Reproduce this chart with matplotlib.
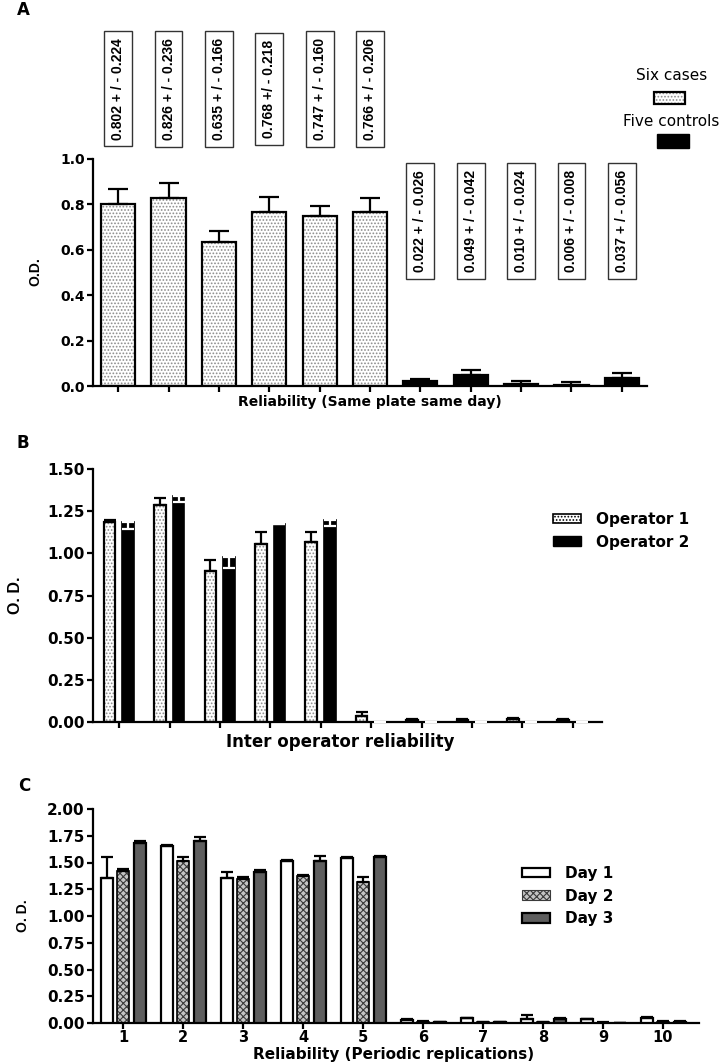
import numpy as np
import matplotlib.pyplot as plt
from matplotlib.patches import Patch, Rectangle

# ---- Panel A: same plate same day (6 cases, 5 controls) ----
a_means = [0.802, 0.826, 0.635, 0.768, 0.747, 0.766, 0.022, 0.049, 0.010, 0.006, 0.037]
a_err = [0.065, 0.070, 0.048, 0.064, 0.046, 0.060, 0.008, 0.020, 0.014, 0.010, 0.020]
a_is_case = [True] * 6 + [False] * 5
a_boxes = ["0.802 + / - 0.224", "0.826 + / - 0.236", "0.635 + / - 0.166",
           "0.768 +/ - 0.218", "0.747 + / - 0.160", "0.766 + / - 0.206",
           "0.022 + / - 0.026", "0.049 + / - 0.042", "0.010 + / - 0.024",
           "0.006 + / - 0.008", "0.037 + / - 0.056"]

# ---- Panel B: inter operator ----
b_op1 = [1.183, 1.286, 0.895, 1.053, 1.066, 0.036, 0.012, 0.012, 0.016, 0.013]
b_op1_err = [0.012, 0.043, 0.063, 0.071, 0.061, 0.021, 0.004, 0.004, 0.005, 0.004]
b_op2 = [1.187, 1.339, 0.976, 1.173, 1.195, 0.0, 0.0, 0.0, 0.0, 0.0]
b_op2_err = [0.045, 0.035, 0.060, 0.0, 0.030, 0.0, 0.0, 0.0, 0.0, 0.0]

# ---- Panel C: periodic replications ----
c_labels = ["1", "2", "3", "4", "5", "6", "7", "8", "9", "10"]
day1 = [1.352, 1.654, 1.352, 1.514, 1.545, 0.030, 0.045, 0.040, 0.035, 0.050]
day1_err = [0.197, 0.008, 0.056, 0.006, 0.010, 0.003, 0.003, 0.035, 0.003, 0.004]
day2 = [1.424, 1.517, 1.346, 1.374, 1.315, 0.012, 0.006, 0.008, 0.004, 0.014]
day2_err = [0.012, 0.032, 0.015, 0.008, 0.053, 0.004, 0.002, 0.002, 0.001, 0.005]
day3 = [1.679, 1.704, 1.408, 1.517, 1.555, 0.012, 0.008, 0.040, 0.003, 0.014]
day3_err = [0.025, 0.037, 0.019, 0.044, 0.006, 0.002, 0.002, 0.004, 0.001, 0.003]

W, H = 725, 1063
ARIAL = "Liberation Sans"
plt.rcParams["font.family"] = "DejaVu Sans"
plt.rcParams["hatch.linewidth"] = 0.8

fig = plt.figure(figsize=(W / 100, H / 100), dpi=100)


def px_box(l, t, r, b):
    return [l / W, 1 - b / H, (r - l) / W, (b - t) / H]


def ftext(x, y, s, **kw):
    fig.text(x / W, 1 - y / H, s, **kw)


def style_axes(ax, ylim, yticks, fmt):
    for side in ["top", "right"]:
        ax.spines[side].set_visible(False)
    for side in ["left", "bottom"]:
        ax.spines[side].set_linewidth(1.6)
    ax.set_ylim(*ylim)
    ax.set_yticks(yticks)
    ax.set_yticklabels([fmt % v for v in yticks])
    ax.tick_params(direction="out", length=4.5, width=1.6, pad=1.5)
    ax.set_facecolor("none")


def dotted_bars(ax, x, h, w):
    ax.bar(x, h, w, color="white", edgecolor="#8c8c8c", hatch=".....", linewidth=0, zorder=2)
    ax.bar(x, h, w, fill=False, edgecolor="black", linewidth=1.6, zorder=3)


# ------------------------------- A
ax_a = fig.add_axes(px_box(93, 159, 647, 386))
xa = np.arange(len(a_means))
means = np.array(a_means)
case = np.array(a_is_case)
dotted_bars(ax_a, xa[case], means[case], 0.68)
ax_a.bar(xa[~case], means[~case], 0.68, color="black", edgecolor="black", linewidth=1.6, zorder=3)
ax_a.errorbar(xa, means, yerr=[np.zeros(len(a_err)), a_err], fmt="none", ecolor="black",
              elinewidth=1.6, capsize=7, capthick=1.6, zorder=4)
ax_a.set_xlim(-0.5, 10.5)
ax_a.set_xticks(xa)
ax_a.set_xticklabels([])
style_axes(ax_a, (0, 1.0), [0, 0.2, 0.4, 0.6, 0.8, 1.0], "%.1f")
for lab in ax_a.get_yticklabels():
    lab.set_fontsize(10)
    lab.set_fontweight("bold")

for i, s in enumerate(a_boxes):
    ypos = 1.31 if a_is_case[i] else 0.727
    ax_a.text(i, ypos, s, rotation=90, ha="center", va="center", fontsize=10,
              fontweight="bold", family=ARIAL, clip_on=False,
              bbox=dict(boxstyle="square,pad=0.5", facecolor="white",
                        edgecolor="#333333", linewidth=1.0))

ftext(35, 272, "O.D.", rotation=90, ha="center", va="center", fontsize=10,
      fontweight="bold", family=ARIAL)
ftext(370, 402, "Reliability (Same plate same day)", ha="center", va="center",
      fontsize=10, fontweight="bold")
ftext(17, 10, "A", ha="left", va="center", fontsize=12, fontweight="bold")

# legend A (text above swatch)
ftext(672, 76, "Six cases", ha="center", va="center", fontsize=11)
sw1 = Rectangle((654 / W, 1 - 104 / H), 31 / W, 12 / H, transform=fig.transFigure,
                facecolor="white", edgecolor="#8c8c8c", hatch=".....", linewidth=0)
sw1b = Rectangle((654 / W, 1 - 104 / H), 31 / W, 12 / H, transform=fig.transFigure,
                 fill=False, edgecolor="black", linewidth=1.6)
ftext(671, 122, "Five controls", ha="center", va="center", fontsize=11)
sw2 = Rectangle((657 / W, 1 - 148 / H), 32 / W, 14 / H, transform=fig.transFigure,
                facecolor="black", edgecolor="black")
for p in [sw1, sw1b, sw2]:
    fig.patches.append(p)

# ------------------------------- B
ax_b = fig.add_axes(px_box(93, 469, 602, 722))
xb = np.arange(len(b_op1))
bw = 0.23
dotted_bars(ax_b, xb - 0.19, b_op1, bw)
ax_b.bar(xb + 0.18, b_op2, bw, color="black", edgecolor="black", linewidth=1.2, zorder=3)
ax_b.errorbar(xb - 0.19, b_op1, yerr=[np.zeros(len(b_op1_err)), b_op1_err], fmt="none",
              ecolor="black", elinewidth=1.6, capsize=4.5, capthick=1.6, zorder=4)
ax_b.errorbar(xb + 0.18, b_op2, yerr=[b_op2_err, np.zeros(len(b_op2_err))], fmt="none",
              ecolor="white", elinewidth=1.6, capsize=4.5, capthick=1.6, zorder=4)
ax_b.set_xlim(-0.52, 9.58)
ax_b.set_xticks(xb)
ax_b.set_xticklabels([])
style_axes(ax_b, (0, 1.5), [0, 0.25, 0.5, 0.75, 1.0, 1.25, 1.5], "%.2f")
for lab in ax_b.get_yticklabels():
    lab.set_fontsize(11)
    lab.set_fontweight("bold")

ftext(15, 595, "O. D.", rotation=90, ha="center", va="center", fontsize=11.5,
      fontweight="bold", family=ARIAL)
ftext(340, 742, "Inter operator reliability", ha="center", va="center",
      fontsize=12, fontweight="bold")
ftext(17, 443, "B", ha="left", va="center", fontsize=12, fontweight="bold")

h_op1 = Patch(facecolor="white", edgecolor="black", hatch=".....", linewidth=1.2)
h_op2 = Patch(facecolor="black", edgecolor="black")
ax_b.legend([h_op1, h_op2], ["Operator 1", "Operator 2"], loc="upper left",
            bbox_to_anchor=(553 / W, 1 - 512 / H), bbox_transform=fig.transFigure,
            frameon=False, borderpad=0, borderaxespad=0, handlelength=1.8,
            handleheight=0.6, handletextpad=1.0, labelspacing=0.5,
            prop=dict(size=11, weight="bold"))

# ------------------------------- C
ax_c = fig.add_axes(px_box(93, 809, 699, 1023))
xc = np.arange(len(day1))
cw = 0.2
ax_c.bar(xc - 0.275, day1, cw, color="white", edgecolor="black", linewidth=1.6, zorder=3)
ax_c.bar(xc, day2, cw, color="#c4c4c4", edgecolor="#3a3a3a", hatch="xxxxx", linewidth=0, zorder=2)
ax_c.bar(xc, day2, cw, fill=False, edgecolor="black", linewidth=1.2, zorder=3)
ax_c.bar(xc + 0.275, day3, cw, color="#5e5e5e", edgecolor="black", linewidth=1.6, zorder=3)
for off, vals, errs in [(-0.275, day1, day1_err), (0.0, day2, day2_err), (0.275, day3, day3_err)]:
    ax_c.errorbar(xc + off, vals, yerr=[np.zeros(len(errs)), errs], fmt="none",
                  ecolor="black", elinewidth=1.6, capsize=4.5, capthick=1.6, zorder=4)
ax_c.set_xlim(-0.5, 9.6)
ax_c.set_xticks(xc)
ax_c.set_xticklabels(c_labels, fontsize=10.5, fontweight="bold")
style_axes(ax_c, (0, 2.0), [0, 0.25, 0.5, 0.75, 1.0, 1.25, 1.5, 1.75, 2.0], "%.2f")
ax_c.tick_params(axis="x", length=4, pad=1)
for lab in ax_c.get_yticklabels():
    lab.set_fontsize(11)
    lab.set_fontweight("bold")

ftext(23, 916, "O. D.", rotation=90, ha="center", va="center", fontsize=10,
      fontweight="bold", family=ARIAL)
ftext(394, 1055, "Reliability (Periodic replications)", ha="center", va="center",
      fontsize=11, fontweight="bold")
ftext(18, 786, "C", ha="left", va="center", fontsize=12, fontweight="bold")

h_d1 = Patch(facecolor="white", edgecolor="black", linewidth=1.6)
h_d2 = Patch(facecolor="#c4c4c4", edgecolor="#3a3a3a", hatch="xxxxx", linewidth=0.8)
h_d3 = Patch(facecolor="#5e5e5e", edgecolor="black", linewidth=1.6)
ax_c.legend([h_d1, h_d2, h_d3], ["Day 1", "Day 2", "Day 3"], loc="upper left",
            bbox_to_anchor=(522 / W, 1 - 866 / H), bbox_transform=fig.transFigure,
            frameon=False, borderpad=0, borderaxespad=0, handlelength=1.8,
            handleheight=0.6, handletextpad=1.0, labelspacing=0.5,
            prop=dict(size=11, weight="bold"))

fig.savefig("out.png", dpi=100, facecolor="white")
